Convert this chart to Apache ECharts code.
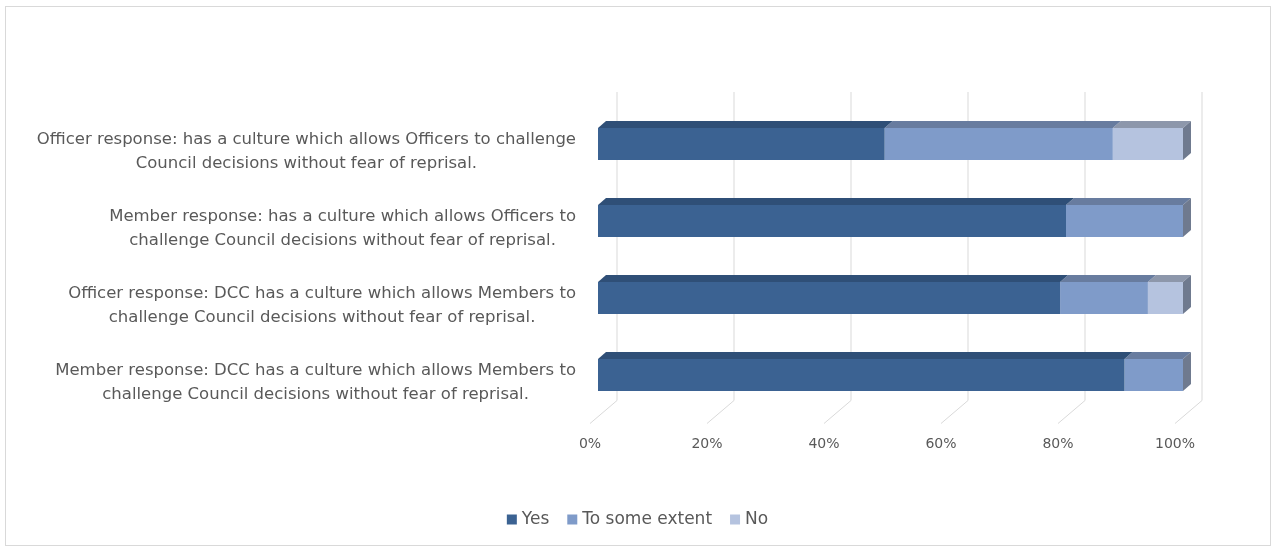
<!DOCTYPE html>
<html>
<head>
<meta charset="utf-8">
<script src="https://cdn.jsdelivr.net/npm/echarts@6/dist/echarts.min.js"></script>
<style>
  html, body { margin: 0; padding: 0; background: #ffffff; }
  #wrap { position: relative; width: 1275px; height: 547px; }
  #frame { position: absolute; left: 5px; top: 6px; width: 1264px; height: 538px; border: 1px solid #d9d9d9; pointer-events: none; }
  #chart { position: absolute; left: 0; top: 0; width: 1275px; height: 547px; }
</style>
</head>
<body>
<div id="wrap"><div id="frame"></div><div id="chart"></div></div>
<script>
// ---- data ----
const categories = [
  "Officer response: has a culture which allows Officers to challenge\nCouncil decisions without fear of reprisal.",
  "Member response: has a culture which allows Officers to\nchallenge Council decisions without fear of reprisal.",
  "Officer response: DCC has a culture which allows Members to\nchallenge Council decisions without fear of reprisal.",
  "Member response: DCC has a culture which allows Members to\nchallenge Council decisions without fear of reprisal."
];
const seriesNames = ["Yes", "To some extent", "No"];
const yesValues = [49, 80, 79, 90];
const someValues = [39, 20, 15, 10];
const noValues = [12, 0, 6, 0];
const axisTicks = [0, 20, 40, 60, 80, 100];

// ---- styles ----
const FONT = "'DejaVu Sans', 'Noto Sans', sans-serif";
const TEXT = '#595959';
const GRIDC = '#d9d9d9';
const faces = [
  { front: '#3b6292', top: '#2f4f77' },
  { front: '#7f9bc9', top: '#687c9f' },
  { front: '#b5c3df', top: '#8d97ab' }
];
const SIDE = '#6f7a8f';
const FX = 8;      // front face offset from floor front
const DX = 8, DY = -7; // bar depth
const FLOOR_FRONT = 10, FLOOR_BACK = -13, FLOOR_DX = 27, WALL_TOP = 92;

const all = [yesValues, someValues, noValues];
const totals = categories.map((c, i) => all.reduce((s, a) => s + a[i], 0));

function segData(k) {
  return categories.map((c, i) => {
    let start = 0;
    for (let j = 0; j < k; j++) start += all[j][i];
    const end = start + all[k][i];
    return [start, end, i, Math.abs(end - totals[i]) < 1e-9 ? 1 : 0];
  });
}

function barRender(k) {
  return function (params, api) {
    const start = api.value(0), end = api.value(1), cat = api.value(2), last = api.value(3);
    if (end - start <= 0) return;
    const p0 = api.coord([start, cat]);
    const p1 = api.coord([end, cat]);
    const band = api.size([0, 1])[1];
    const h = band * 0.416;
    const x0 = p0[0] + FX, x1 = p1[0] + FX;
    const yT = p0[1] - h / 2, yB = p0[1] + h / 2;
    const children = [
      { type: 'rect', shape: { x: x0, y: yT, width: x1 - x0, height: h }, style: { fill: faces[k].front } },
      { type: 'polygon', shape: { points: [[x0, yT], [x1, yT], [x1 + DX, yT + DY], [x0 + DX, yT + DY]] }, style: { fill: faces[k].top } }
    ];
    if (last) {
      children.push({ type: 'polygon', shape: { points: [[x1, yT], [x1 + DX, yT + DY], [x1 + DX, yB + DY], [x1, yB]] }, style: { fill: SIDE } });
    }
    return { type: 'group', children };
  };
}

function wallRender(params, api) {
  const v = api.value(0);
  const cs = params.coordSys;
  const p = api.coord([v, 0]);
  const yF = cs.y + cs.height + FLOOR_FRONT;
  const yBk = cs.y + cs.height + FLOOR_BACK;
  return {
    type: 'polyline',
    shape: { points: [[p[0], yF], [p[0] + FLOOR_DX, yBk], [p[0] + FLOOR_DX, WALL_TOP]] },
    style: { stroke: GRIDC, lineWidth: 1, fill: null }
  };
}

const chart = echarts.init(document.getElementById('chart'));
const series = [
  {
    type: 'custom', name: '_grid', silent: true, z: 1,
    renderItem: wallRender,
    data: axisTicks.map(t => [t])
  }
];
seriesNames.forEach((name, k) => {
  series.push({
    type: 'custom', name: name, z: 2 + (2 - k),
    itemStyle: { color: faces[k].front },
    renderItem: barRender(k),
    encode: { x: [0, 1], y: 2 },
    data: segData(k)
  });
});

chart.setOption({
  animation: false,
  textStyle: { fontFamily: FONT },
  grid: { left: 590, width: 585, top: 105.5, height: 308 },
  xAxis: {
    type: 'value', min: 0, max: 100, interval: 20,
    axisLine: { show: false }, axisTick: { show: false }, splitLine: { show: false },
    axisLabel: { formatter: '{value}%', color: TEXT, fontSize: 14, fontFamily: FONT, margin: 24 }
  },
  yAxis: {
    type: 'category', data: categories, inverse: true,
    axisLine: { show: false }, axisTick: { show: false },
    axisLabel: {
      color: TEXT, fontSize: 16.5, fontFamily: FONT, margin: 14, align: 'right',
      padding: [16, 0, 0, 0],
      formatter: function (v) { return v.split('\n').map(l => '{c|' + l + '}').join('\n'); },
      rich: { c: { align: 'center', color: TEXT, fontSize: 16.5, fontFamily: FONT, lineHeight: 24 } }
    }
  },
  legend: {
    data: seriesNames, bottom: 14, left: 'center',
    icon: 'rect', itemWidth: 10, itemHeight: 10, itemGap: 18,
    textStyle: { color: TEXT, fontSize: 17, fontFamily: FONT }
  },
  series: series
});
</script>
</body>
</html>
